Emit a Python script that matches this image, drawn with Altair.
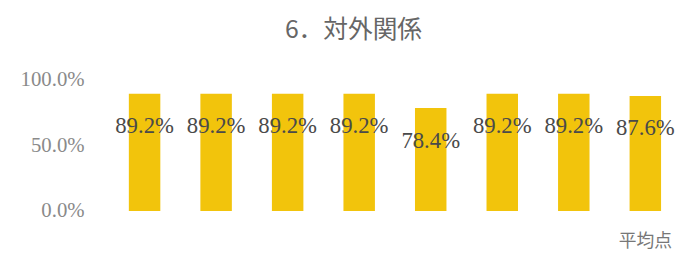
import altair as alt
import pandas as pd

categories = ["項目1", "項目2", "項目3", "項目4", "項目5", "項目6", "項目7", "平均点"]
values = [89.2, 89.2, 89.2, 89.2, 78.4, 89.2, 89.2, 87.6]
y_ticks = [0, 50, 100]

df = pd.DataFrame({"cat": categories, "val": values})
df["label"] = [f"{v:.1f}%" for v in values]

x = alt.X(
    "cat:N",
    sort=categories,
    title=None,
    scale=alt.Scale(paddingInner=0.56, paddingOuter=0.28),
    axis=alt.Axis(
        labelExpr="datum.label == '平均点' ? datum.label : ''",
        labelAngle=0,
        labelFont="Noto Sans CJK JP",
        labelFontSize=18,
        labelColor="#777777",
        labelPadding=22,
        ticks=False,
        domain=False,
        grid=False,
    ),
)
y = alt.Y(
    "val:Q",
    title=None,
    scale=alt.Scale(domain=[0, 100], nice=False),
    axis=alt.Axis(
        values=y_ticks,
        labelExpr="format(datum.value, '.1f') + '%'",
        labelFont="Liberation Serif",
        labelFontSize=21,
        labelColor="#8a8a8a",
        labelPadding=25,
        ticks=False,
        domain=False,
        grid=False,
    ),
)

bars = alt.Chart(df).mark_bar(color="#F2C40C").encode(x=x, y=y)
texts = alt.Chart(df).mark_text(
    font="Liberation Serif", fontSize=23, color="#4a4a4a", dy=33, baseline="middle"
).encode(x=alt.X("cat:N", sort=categories), y=alt.Y("val:Q"), text="label:N")

chart = (
    alt.layer(bars, texts)
    .properties(
        width=579,
        height=133,
        title=alt.TitleParams(
            "6．対外関係",
            font="Noto Sans CJK JP",
            fontSize=25,
            fontWeight="normal",
            color="#666666",
            anchor="middle",
            dx=-42,
            offset=26,
        ),
        autosize=alt.AutoSizeParams(type="none"),
        padding={"left": 102, "top": 71, "right": 8, "bottom": 40},
        background="white",
    )
    .configure_view(stroke="transparent", strokeWidth=0)
)

chart.save("out.html", embed_options={"renderer": "svg", "actions": False})
